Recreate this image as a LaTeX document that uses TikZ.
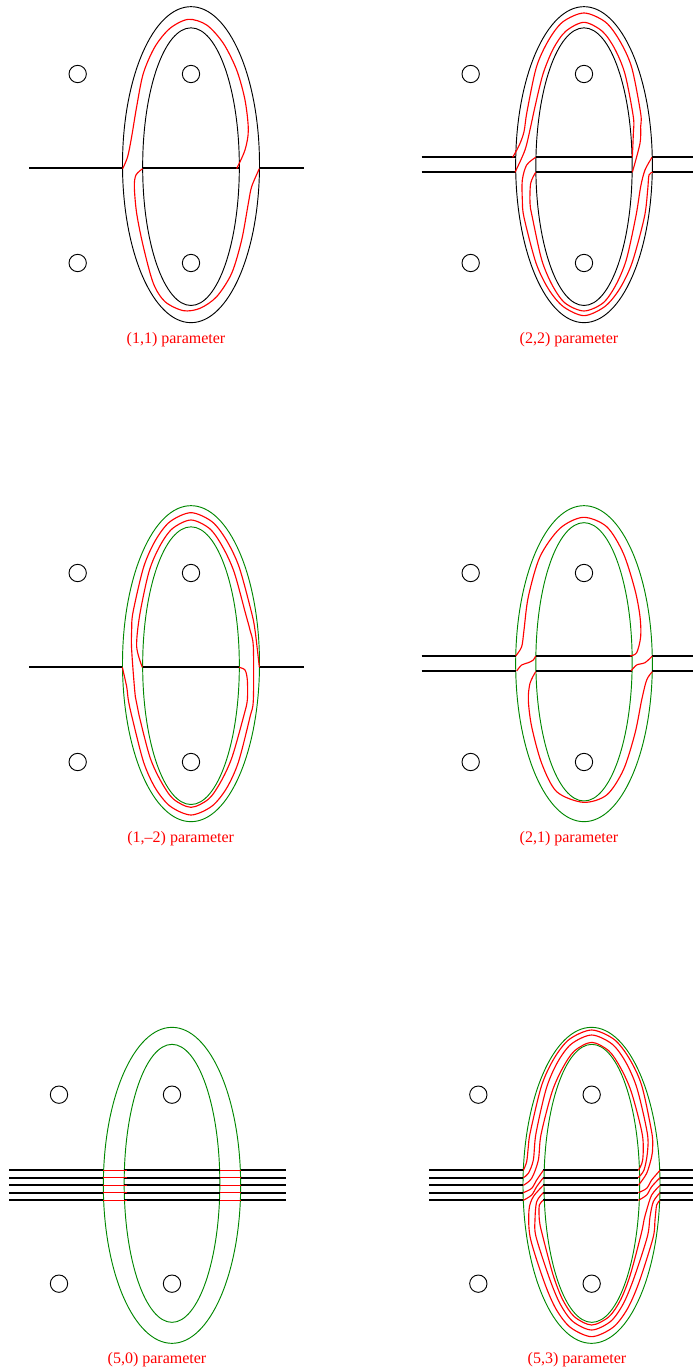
\documentclass[tikz,border=0pt]{standalone}
\usepackage{fontspec}
\setmainfont{Liberation Serif}
\definecolor{ringgreen}{RGB}{0,135,0}

\begin{document}
\begin{tikzpicture}[
x=0.75pt, y=-0.75pt,
panel/.style 2 args={shift={(#1,#2)}, scale=1/3},
hole/.style={draw, circle, line width=0.7pt, minimum size=13pt, inner sep=0pt},
ring/.style={line width=0.7pt},
greenring/.style={ring, ringgreen},
band/.style={line width=1.5pt},
strand/.style={red, line width=0.85pt},
caption/.style={red, inner sep=0pt, font=\fontsize{12}{12}\selectfont}
]
\useasboundingbox (0,0) rectangle (693,1369);

% (1,1)
\begin{scope}[panel={0}{0}]
\node[hole] (a1) at (233,222) {};
\node[hole] (a2) at (573,222) {};
\node[hole] (a3) at (233,789) {};
\node[hole] (a4) at (573,789) {};
\draw[ring] (573,494) ellipse [x radius=205.5, y radius=474];
\draw[ring] (573,500) ellipse [x radius=145, y radius=416.5];
\draw[band] (87,505) -- (367,505) (428,505) -- (718,505) (778,505) -- (912,505);
\draw[strand] plot[smooth] coordinates {(368,506) (383,470) (395,410) (410,320) (430,220) (465,140) (510,85) (565,58) (620,75) (670,130) (710,210) (735,300) (745,390) (735,450) (710,506)};
\draw[strand] plot[smooth] coordinates {(428,506) (408,525) (403,560) (410,640) (430,740) (460,850) (495,905) (550,932) (600,925) (650,890) (695,820) (725,720) (745,610) (755,560) (778,506)};
\node[caption] (cap1) at (528,1018) {(1,1) parameter};
\end{scope}

% (2,2)
\begin{scope}[panel={400}{0}]
\node[hole] (b1) at (212,222) {};
\node[hole] (b2) at (552,222) {};
\node[hole] (b3) at (212,789) {};
\node[hole] (b4) at (552,789) {};
\draw[ring] (552,494) ellipse [x radius=205, y radius=474];
\draw[ring] (552,500) ellipse [x radius=144.5, y radius=416.5];
\foreach \y in {472,517}
  \draw[band] (65,\y) -- (347,\y) (408,\y) -- (697,\y) (757,\y) -- (879,\y);
\draw[strand] plot[smooth] coordinates {(338,472) (358,435) (372,395) (381,335) (409,202) (445,122) (488,66) (552,39) (616,66) (659,122) (695,202) (722,340) (722,380) (720,430) (697,517)};
\draw[strand] plot[smooth] coordinates {(345,517) (375,450) (392,380) (405,320) (429,222) (460,146) (497,94) (552,67) (607,94) (644,146) (675,222) (700,351) (700,400) (697,472)};
\draw[strand] plot[smooth] coordinates {(407,472) (380,495) (367,540) (367,600) (372,652) (408,789) (446,868) (490,920) (552,947) (614,920) (658,868) (696,789) (733,652) (743,570) (747,525) (758,517)};
\draw[strand] plot[smooth] coordinates {(407,517) (392,550) (390,610) (396,647) (425,779) (457,856) (495,909) (552,933) (609,909) (647,856) (679,779) (708,647) (722,560) (735,510) (756,472)};
\node[caption] (cap2) at (507,1018) {(2,2) parameter};
\end{scope}

% (1,-2)
\begin{scope}[panel={0}{500}]
\node[hole] (c1) at (233,219) {};
\node[hole] (c2) at (573,219) {};
\node[hole] (c3) at (233,786) {};
\node[hole] (c4) at (573,786) {};
\draw[greenring] (573,491) ellipse [x radius=205.5, y radius=474];
\draw[greenring] (573,497) ellipse [x radius=145, y radius=416.5];
\draw[band] (87,502) -- (367,502) (428,502) -- (718,502) (778,502) -- (912,502);
\draw[strand] plot[smooth] coordinates {(367,502) (380,560) (385,600) (396,651) (431,787) (467,866) (511,919) (573,945) (635,919) (679,866) (715,787) (750,651) (760,600) (760,440) (750,390) (737,342) (702,215) (667,139) (629,86) (573,60) (517,86) (479,139) (447,215) (419,346) (410,440) (427,502)};
\draw[strand] plot[smooth] coordinates {(717,502) (735,510) (742,540) (742,600) (732,645) (696,772) (662,846) (626,897) (573,922) (520,897) (484,846) (450,772) (417,645) (406,590) (395,450) (395,390) (399,337) (431,201) (467,120) (510,65) (573,38) (636,65) (679,120) (717,200) (754,335) (765,390) (778,502)};
\node[caption] (cap3) at (542,1015) {(1,--2) parameter};
\end{scope}

% (2,1)
\begin{scope}[panel={400}{500}]
\node[hole] (d1) at (212,219) {};
\node[hole] (d2) at (552,219) {};
\node[hole] (d3) at (212,786) {};
\node[hole] (d4) at (552,786) {};
\draw[greenring] (552,491) ellipse [x radius=205, y radius=474];
\draw[greenring] (552,485.5) ellipse [x radius=144.5, y radius=417.5];
\foreach \y in {468,514}
  \draw[band] (65,\y) -- (347,\y) (408,\y) -- (697,\y) (757,\y) -- (879,\y);
\draw[strand] plot[smooth] coordinates {(347,468) (365,440) (372,390) (385,290) (420,170) (480,85) (550,52) (620,80) (670,160) (705,270) (720,350) (722,410) (710,458) (690,468)};
\draw[strand] plot[smooth] coordinates {(350,513) (365,495) (385,488) (400,480) (407,468)};
\draw[strand] plot[smooth] coordinates {(693,513) (710,495) (735,488) (757,468)};
\draw[strand] plot[smooth] coordinates {(407,515) (390,550) (385,600) (395,680) (425,790) (470,875) (550,907) (620,885) (670,810) (705,700) (725,600) (740,540) (757,515)};
\node[caption] (cap4) at (507,1015) {(2,1) parameter};
\end{scope}

% (5,0)
\begin{scope}[panel={0}{1020}]
\node[hole] (e1) at (177,224) {};
\node[hole] (e2) at (516,224) {};
\node[hole] (e3) at (177,791) {};
\node[hole] (e4) at (516,791) {};
\draw[greenring] (516,496) ellipse [x radius=206, y radius=474];
\draw[greenring] (516,490) ellipse [x radius=143.5, y radius=417];
\foreach \y in {451,473,496,518,541} {
  \draw[band] (28,\y) -- (310,\y) (373,\y) -- (660,\y) (722,\y) -- (857,\y);
  \draw[strand] (310,\y) -- (380,\y) (660,\y) -- (722,\y);
}
\node[caption] (cap5) at (471,1018) {(5,0) parameter};
\end{scope}

% (5,3)
\begin{scope}[panel={420}{1020}]
\node[hole] (f1) at (175,224) {};
\node[hole] (f2) at (515,224) {};
\node[hole] (f3) at (175,791) {};
\node[hole] (f4) at (515,791) {};
\draw[greenring] (514.5,496) ellipse [x radius=205.5, y radius=474];
\draw[greenring] (515.5,490) ellipse [x radius=143.5, y radius=417];
\foreach \y in {451,473,496,518,541}
  \draw[band] (27,\y) -- (309,\y) (370,\y) -- (655,\y) (720,\y) -- (819,\y);
\draw[strand] plot[smooth] coordinates {(310,451) (320,425) (325,380) (331,336) (365,196) (403,114) (448,58) (515,30) (582,58) (627,114) (665,196) (695,336) (698,380) (695,410) (680,460) (655,496)};
\draw[strand] plot[smooth] coordinates {(310,473) (325,460) (340,420) (348,340) (379,205) (413,126) (454,72) (515,45) (576,72) (617,126) (651,205) (682,340) (682,400) (672,450) (655,473)};
\draw[strand] plot[smooth] coordinates {(310,496) (335,475) (355,420) (363,344) (396,216) (428,144) (463,93) (515,67) (567,93) (602,144) (634,216) (667,344) (668,420) (655,451)};
\draw[strand] plot[smooth] coordinates {(310,518) (335,505) (350,480) (370,451)};
\draw[strand] plot[smooth] coordinates {(310,541) (335,525) (350,500) (370,473)};
\draw[strand] plot[smooth] coordinates {(655,518) (680,505) (695,480) (720,451)};
\draw[strand] plot[smooth] coordinates {(655,541) (680,525) (695,500) (720,473)};
\draw[strand] plot[smooth] coordinates {(370,496) (340,530) (327,570) (331,654) (373,787) (408,867) (451,922) (515,950) (579,922) (622,867) (657,787) (699,654) (705,600) (710,555) (720,541)};
\draw[strand] plot[smooth] coordinates {(370,518) (350,545) (345,600) (348,650) (388,774) (420,851) (458,904) (515,930) (572,904) (610,851) (642,774) (682,650) (690,590) (700,545) (720,518)};
\draw[strand] plot[smooth] coordinates {(370,541) (358,555) (358,600) (366,640) (399,764) (428,839) (463,890) (515,915) (567,890) (602,839) (631,764) (664,640) (672,600) (680,570) (695,525) (720,496)};
\node[caption] (cap6) at (471,1018) {(5,3) parameter};
\end{scope}
\end{tikzpicture}
\end{document}
